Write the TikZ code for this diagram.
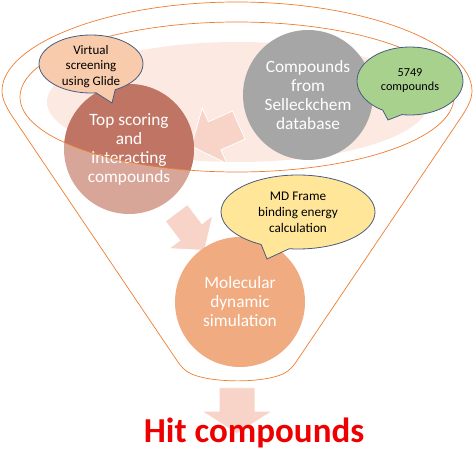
\documentclass[tikz,border=0pt]{standalone}
\usepackage{fontspec}
\setmainfont{Carlito}
\usetikzlibrary{shapes.geometric, shapes.callouts, shapes.arrows}
\definecolor{FunOrange}{RGB}{237, 125, 49}
\definecolor{PinkBg}{RGB}{251, 233, 226}
\definecolor{TopDark}{RGB}{192, 117, 100}
\definecolor{TopLight}{RGB}{216, 166, 152}
\definecolor{SelGray}{RGB}{166, 166, 166}
\definecolor{MolOrange}{RGB}{241, 171, 128}
\definecolor{ArrPink}{RGB}{248, 212, 200}
\definecolor{CallPeach}{RGB}{248, 203, 173}
\definecolor{CallGreen}{RGB}{169, 209, 142}
\definecolor{CallYellow}{RGB}{255, 230, 153}
\definecolor{CallBorder}{RGB}{72, 92, 125}
\definecolor{HitRed}{RGB}{238, 0, 0}

\begin{document}
\begin{tikzpicture}[
  x=1pt, y=-1pt,
  circ/.style={circle, inner sep=0pt, minimum size=130pt, text=white,
               align=center, font=\fontsize{17.3}{19}\selectfont},
  callout/.style={ellipse callout, draw=CallBorder, line width=0.8pt,
                  inner sep=0pt, callout pointer arc=22},
  calltext/.style={align=center, font=\fontsize{13}{15.5}\selectfont},
  blockarr/.style={single arrow, fill=ArrPink, draw=white, line width=0.8pt,
                   inner xsep=0pt, minimum width=0pt, single arrow tip angle=100},
  funnel/.style={draw=FunOrange, line width=0.7pt}
]
  \useasboundingbox (0,0) rectangle (474,454);

  %% pale band inside the funnel mouth
  \fill[PinkBg] (238,102) ellipse [x radius=191pt, y radius=60pt];

  %% block arrows
  \node[blockarr, inner ysep=15pt, minimum height=52pt,
        single arrow head extend=15pt, rotate=204]  (arrA) at (221,133) {};
  \node[blockarr, inner ysep=13.5pt, minimum height=47pt,
        single arrow head extend=13.5pt, rotate=-53] (arrB) at (187,227) {};
  \node[blockarr, inner ysep=17.5pt, minimum height=46pt,
        single arrow head extend=17.5pt, single arrow tip angle=115,
        rotate=-90] (arrC) at (237,405) {};

  %% circles
  \node[circ, fill=TopLight] (topScore) at (129,149) {};
  \begin{scope}
    \clip (237,97) ellipse [x radius=217pt, y radius=75pt];
    \fill[TopDark] (topScore.center) circle (65pt);
  \end{scope}
  \node[circ] (topText) at (topScore.center)
    {Top scoring\\and\\interacting\\compounds};
  \node[circ, fill=SelGray] (selleck) at (308,95)
    {Compounds\\from\\Selleckchem\\database};
  \node[circ, fill=MolOrange] (molDyn) at (240,302)
    {Molecular\\dynamic\\simulation};

  %% funnel outline
  \draw[funnel] (237,97) ellipse [x radius=217pt, y radius=75pt];
  \draw[funnel, rounded corners=6pt] (2,97)
    arc[start angle=180, end angle=0, x radius=235pt, y radius=95pt]
    -- (466,110) -- (292,368) .. controls (270,384) and (205,384) .. (182,368)
    -- (8,110) -- cycle;

  \node[anchor=base, text=HitRed, font=\bfseries\fontsize{35}{38}\selectfont]
    (hit) at (254,442) {Hit compounds};

  %% callouts
  \node[callout, fill=CallPeach, minimum width=104pt, minimum height=58pt,
        callout absolute pointer={(112,103)}] (glide) at (91,64) {};
  \node[calltext] (glideText) at ([yshift=-2.5pt]glide.center)
    {Virtual\\screening\\using Glide};
  \node[callout, fill=CallGreen, minimum width=106pt, minimum height=68pt,
        callout absolute pointer={(388,120)}] (count) at (410,81) {};
  \node[calltext, font=\fontsize{12.2}{14}\selectfont] (countText)
    at (count.center) {5749\\compounds};
  \node[callout, fill=CallYellow, minimum width=154pt, minimum height=74pt,
        callout absolute pointer={(267,259)}] (frame) at (298,212) {};
  \node[calltext, font=\fontsize{13.2}{16}\selectfont] (frameText)
    at (frame.center) {MD Frame\\binding energy\\calculation};
\end{tikzpicture}
\end{document}
